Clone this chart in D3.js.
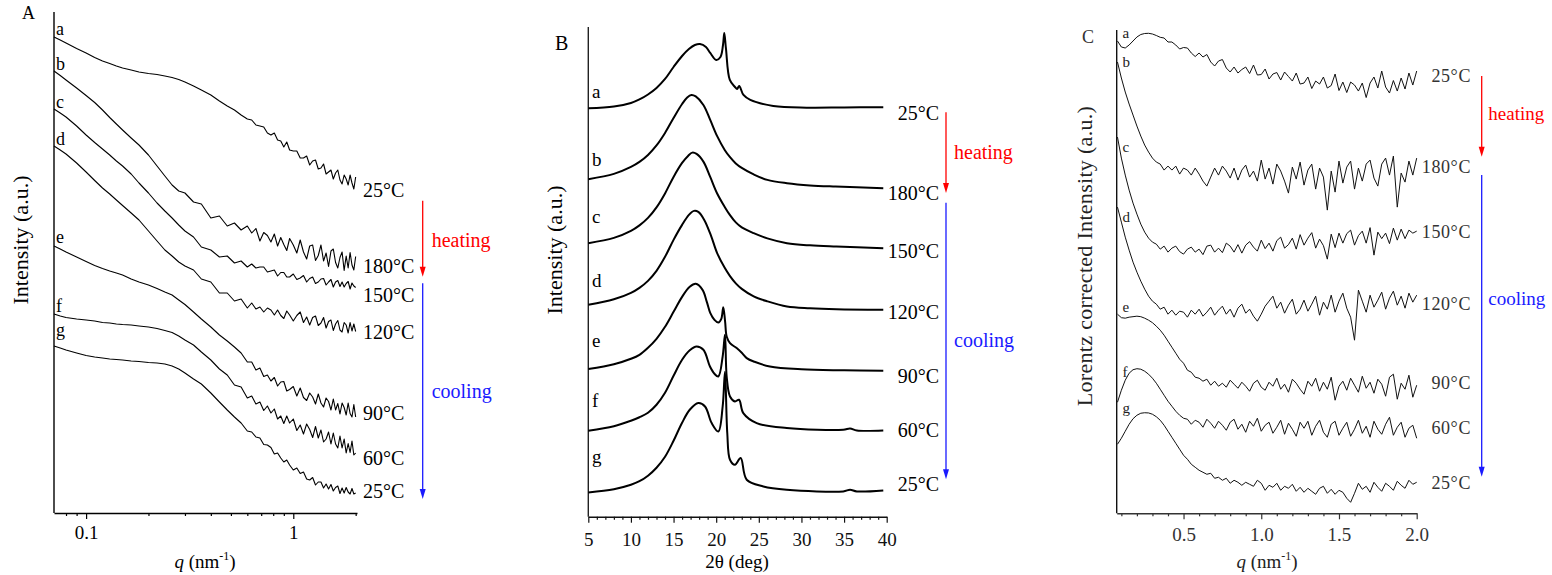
<!DOCTYPE html>
<html>
<head>
<meta charset="utf-8">
<script src="https://cdn.jsdelivr.net/npm/d3@7"></script>
<style>
  body { margin: 0; background: #fff; }
  svg text { font-family: "Liberation Serif", "Times New Roman", serif; }
</style>
</head>
<body>
<div id="chart"></div>
<script>
// ---------- panel A : SAXS, log q ----------
const qA = [0.07,0.075,0.08,0.09,0.1,0.11,0.12,0.13,0.14,0.15,0.165,0.18,0.2,0.22,0.24,0.26,0.28,0.3,0.33,0.36,0.4,0.44,0.48,0.52,0.56,0.6,
  0.63,0.66,0.69,0.72,0.75,0.78,0.81,0.84,0.87,0.9,0.93,0.96,1.0,1.04,1.08,1.12,1.16,1.2,1.24,1.28,1.32,1.36,1.4,1.44,1.48,1.52,1.56,1.6,1.64,1.68,1.72,1.76,1.8,1.84,1.88,1.92,1.96,2.0];
const saxsA = [476,473,470,464.5,460,455.5,452,449.5,447,445,443,441,439.5,438.5,437,435.5,433.5,431,427,423,418,412,407,403,398,394,
  393,388,387,386,380,378,380,373,372,366,371,363,362,362,355,355,357,348,352,353,344,345,349,339,341,343,334,340,343,333,329,338,334,328,338,330,324,336];
const saxsB = [442,437.5,433,425,417.5,410.5,403,395.5,389,383,375,368,358,347,337,328,322,320,311,309,295,297,287,290,283,287,
  280,284.5,272,280.5,277.5,271,279,267,275.5,268.5,262.5,274.5,268,260,273,261,254,267,268,252.5,257.5,268,252,260,246.5,262,264,250.5,245,255.5,261,242.5,257,245,260.5,248,243,256.5];
const saxsC = [404,400,396,387,378,370.5,364,358,352,347,339,330,320,310,302,295,288,282,276,266,263,256,257,250,252,246,
  249,245,246,246,241,242,243,237,240.5,240.5,236,236,239,233.5,235,237.5,231,234.5,236,229.5,231,234,234.5,228,231,233.5,226,231,232.5,226.5,231,226,229.5,231.5,224,230,227,225.5];
const saxsD = [367,363,359,350,341,332.5,325,319,313,307.5,300,293,282,272,263,257,251,247,243,234,231,220,220,212,214,205,
  210,204,206,201,205,203,198,203,197.5,194.5,202,198,192,197.5,201,190.5,196,188,195.5,197,187.5,190,195.5,185,191.5,193,182.5,189,192.5,183,181,190.5,188,180,190.5,182,189,181.5];
const saxsE = [267,264,261,256,251.5,247.5,244.5,242,240,238,234,231,228,224.5,221,218,213,208.5,201,194,186,178,172,166,160,151,
  151,143,145,136.5,138,132,135.5,127,131,131.5,122,123.5,126.5,117,125,115.5,112.5,120,116,109,119,110,106,115,111.5,103,114,103,109.5,99,110,105.5,98,110,99.5,96,108.5,96];
const saxsF = [199,197,195.5,194,193,192,190.5,190,189,188.5,188,187,186,184.5,182.5,180.5,177,173,168,161,153,144,138,128,126,115,
  117,109,111,102.5,107,100,104,94,97,89.5,97,90,94,82.5,88,79,89,83.5,75.5,86.5,75,83,71,74,81,69,80,69,65,77,65,74,60,69.5,60.5,72,58,60];
const saxsG = [167,165,163,160,157.5,156,155,154,153.5,153,152,151.5,150.5,150,149,147,144,140,134,129,120,111,103,96,90,82,
  81,76,75,68.5,68,65.5,59,60,55,51,53,48,43,45,39.5,41,34,33,35.5,28,31,31,25,29,24,28.5,22,25.5,27,19.5,25,20,25.5,21,19,24.5,19,20];
const saxsSeries = [saxsA, saxsB, saxsC, saxsD, saxsE, saxsF, saxsG];
const majorTicksA = [0.1, 1];
const minorTicksA = [0.08, 0.09, 0.2, 0.3, 0.4, 0.5, 0.6, 0.7, 0.8, 0.9, 2];

// ---------- panel B : WAXD, 2theta ----------
const xrdA = [[5,408.7],[8,410.5],[10,414],[11,417.5],[12,422.5],[13,429],[14,438],[15,450],[16,461],[16.8,468],[17.5,472],[18.1,473],[18.8,470],
  [19.3,464],[20,457],[20.5,460],[20.8,472],[20.95,484],[21.15,468],[21.6,437],[22.2,430],[22.45,428],[22.7,431],[23.2,422],[24,417],[26.7,411],
  [30.6,409.3],[35,409.5],[39.6,409.7]];
const xrdB = [[5,337.7],[8,343],[10,350],[11,355],[12,362],[13,371.5],[14,384],[15,399],[16,413],[16.6,419.5],[17.1,422],[17.6,420.5],[18.5,412],
  [19.3,397],[20.1,381],[21,367],[21.6,360],[22.3,353.5],[23,349],[24.4,342.5],[26,337],[28.3,333.7],[31,331.5],[34,330.3],[39.6,328.7]];
const xrdC = [[5,273.7],[8,279],[10,286],[11,291.5],[12,299],[13,309.5],[14,323.5],[15,340],[16,354],[16.7,361],[17.2,364.3],[17.7,363],
  [18.5,355.3],[19.3,340],[20.1,323.7],[21,310],[21.6,302],[22.3,294.5],[23,289.5],[24.4,283.7],[26,278.5],[28.3,273.7],[31,271.5],[34.1,270.3],[39.6,268.7]];
const xrdD = [[5,212],[8,217.5],[10,224],[11,229],[12,236],[13,246],[14,260],[15,277],[16,292],[16.8,302],[17.4,306],[17.9,305],
  [18.6,297],[19.4,281],[20.1,264],[21,249],[21.6,241],[22.3,233.5],[23,228],[24.4,220.5],[26,215.5],[28.3,210.3],[31,208.5],[34.1,207.5],[39.6,207]];
const xrdE = [[5,147.7],[8,152.5],[10,158],[11,162],[12,169],[13,178],[14,190],[15,205],[16,220],[16.9,230],[17.6,233],[18.4,227],[18.9,215],
  [19.3,204],[19.8,197],[20.25,194.3],[20.6,198],[20.83,209.7],[21.05,195],[21.23,180.3],[21.62,173.7],[22.4,168.7],[23,164],[23.58,158.7],
  [24.5,155],[26.3,150.3],[30,147.5],[35,146.5],[39.6,146]];
const xrdF = [[5,86],[8,90.5],[10,96],[11,99.5],[12,104],[13,112],[14,124],[15,141],[16,157],[16.9,166.5],[17.7,170.3],[18.5,167],
  [19.27,150.3],[19.8,143],[20.25,140.3],[20.76,160.3],[21.03,182],[21.23,140.3],[21.62,120.3],[22.2,115.3],[22.68,117],[23.18,103.7],[24.75,93.7],
  [28.27,88.7],[34.9,87],[35.7,88.3],[36.5,86.3],[39.6,86.3]];
const xrdG = [[5,24.3],[8,27.5],[10,32],[11,35.5],[12,41],[13,49],[14,60],[15,76],[16,94],[16.9,107],[17.9,113.7],[18.69,110.3],[19.47,93.7],
  [20.25,85.3],[20.76,110.3],[21.03,145],[21.3,83.7],[21.62,57],[22.2,52],[22.87,58.7],[23.58,37],[25.53,30.3],[28.27,27],[34.9,25.3],
  [35.7,27],[36.5,25.3],[39.6,26.3]];
const xrdSeries = [xrdA, xrdB, xrdC, xrdD, xrdE, xrdF, xrdG];
const majorTicksB = [5, 10, 15, 20, 25, 30, 35, 40];
const minorTicksB = d3.range(6, 40).filter(v => v % 5 !== 0);

// ---------- panel C : Lorentz corrected, linear q ----------
const qC = [0.075,0.1,0.125,0.15,0.175,0.2,0.225,0.25,0.275,0.3,0.325,0.35,0.375,0.4,0.425,0.45,0.475,0.5,0.525,0.55,0.575,0.6,0.625,0.65,0.675,0.7,
  0.725,0.75,0.775,0.8,0.825,0.85,0.875,0.9,0.925,0.95,0.975,1.0,1.025,1.05,1.075,1.1,1.125,1.15,1.175,1.2,1.225,1.25,1.275,1.3,1.325,1.35,
  1.375,1.4,1.425,1.45,1.475,1.5,1.525,1.55,1.575,1.6,1.625,1.65,1.675,1.7,1.725,1.75,1.775,1.8,1.825,1.85,1.875,1.9,1.925,1.95,1.975,2.0];
const lcA = [472,466,465,468,472,476,478.5,479.5,479.7,479,477.5,475.7,
  475,471,471,468,464,465.5,465,460,456.5,460,456,458.5,451,447,452,453.5,445,441,446,440,443.5,446,439.5,448,438,438.5,444,434,439,440.5,
  433,441,436.5,432,440,429,430,436,424.5,432,429,436,425,427.5,439,422.5,431,420.5,431,428,422,430,415.5,430,436,425,442,426,420,432.5,
  422,435,424,440,428,442];
const lcB = [451,435,421,409,398,387,377,368,361,355,351,
  349,343,347,343,347,339,345,343,338,345,339,332,327,336,345,338,347,342,335,345,333,343,348,336,342,332,353,334,345,329,
  349,342,332,320,346,334,351,328,343,349,324,345,336,303,342,321,352,330,346,352,324,345,332,349,353,335,327,349,355,338,
  357,306,340,331,352,338,355];
const lcC = [376,355,338,323,310,299,289,281,275,271,
  269,264,267,261,265,267,261.5,259,264,266,261,264,258.5,267,268,261,265,260.5,270,267,261,268.5,260,268,271.5,266,262,273,264.5,270,
  262,272.5,276,265,268.5,275,264,278.5,268,275,280.5,265,274,267.5,254,279,265.5,280,270,279.5,283,268,277.5,282,270,285.5,258,281,274.5,280,
  269.5,285,273,284,274.5,283,280,282];
const lcD = [306,291,276,263,251,241,232,224,217,212,
  209,204,206,199,203,198,202,201,196,203,199,204,197,201,206,198,203,207,199,204,196,205,209,200,204,197,192,199,207,212,
  217,205,211,200,208,214,199,204,213,202,209,217,198,211,204,218,201,212,220,205,196,173,223,212,201,218,206,213,221,204,
  215,222,208,217,205,220,211,218];
const lcE = [199,195.5,195,196,196.5,197,196.5,195,193,190.5,187,183,178,172,166,160,154,
  150,143,141,136,135,132,134,128,132,127,130,126,133,129,125,131,127,122,130,133,126,123,131,127,135,124,129,121,134,130,
  124,119,132,127,135,122,131,124,136,113,127,132,123,135,128,121,137,125,131,120,134,129,117,136,139,114,130,124,138,116,128];
const lcF = [111,123,133,140,143.5,144.5,144,142,139,135,130,124,118,112,107,102,98,95,
  94,89,93,91,86,94,90,85,92,88,83,91,94,84,89,81,92,87,95,82,88,91,80,86,93,79,90,84,77,91,
  85,92,78,87,93,81,76,89,92,78,85,91,77,84,93,80,87,76,92,84,79,89,96,78,86,91,76,85,88,75];
const lcG = [69,75,82,89,94.5,98,100,100.5,100.3,99,96.5,93,88,82,76,70,64,58,
  54,49,46,43,41,39,40,35,36,33,35,30,33,31,28,31,29,27,33,30,23,28,26,30,23,27,25,29,22,26,
  21,25,22,19,25,27,20,24,19,23,21,15,11,20,30,24,27,21,31,26,22,30,27,23,32,28,25,33,29,31];
const lcSeries = [lcA, lcB, lcC, lcD, lcE, lcF, lcG];
const majorTicksC = [0.5, 1.0, 1.5, 2.0];
const minorTicksC = [0.1,0.2,0.3,0.4,0.6,0.7,0.8,0.9,1.1,1.2,1.3,1.4,1.6,1.7,1.8,1.9];

// ---------- labels ----------
const curveLetters = ['a', 'b', 'c', 'd', 'e', 'f', 'g'];
const tempLabels = ['25°C', '180°C', '150°C', '120°C', '90°C', '60°C', '25°C'];

// ---------- layout ----------
const width = 1552, height = 575;
const svg = d3.select('#chart').append('svg')
  .attr('width', width)
  .attr('height', height);

const xA = d3.scaleLog().domain([0.07, 2.03]).range([54, 357]);
const yA = d3.scaleLinear().domain([0, 501]).range([513, 12]);
const xB = d3.scaleLinear().domain([5, 40]).range([588.3, 886.7]);
const yB = d3.scaleLinear().domain([0, 490]).range([516.7, 27]);
const xC = d3.scaleLinear().domain([0.07, 2.0]).range([1116.7, 1416.7]);
const yC = d3.scaleLinear().domain([0, 483]).range([513.3, 30]);

function drawXAxis(x, yPos, major, minor, fmt, labelY, color) {
  const gMinor = svg.append('g')
    .attr('transform', `translate(0, ${yPos})`)
    .call(d3.axisBottom(x).tickValues(minor).tickSize(3).tickSizeOuter(0).tickFormat(''));
  gMinor.select('.domain').remove();
  gMinor.selectAll('line').attr('stroke', color).attr('stroke-width', 1.2);

  const g = svg.append('g')
    .attr('transform', `translate(0, ${yPos})`)
    .call(d3.axisBottom(x).tickValues(major).tickSize(6).tickSizeOuter(0).tickFormat(fmt));
  g.select('.domain').attr('stroke', color).attr('stroke-width', 1.4);
  g.selectAll('line').attr('stroke', color).attr('stroke-width', 1.2);
  g.selectAll('text')
    .attr('y', labelY)
    .attr('fill', color)
    .style('font-family', '"Liberation Serif", serif')
    .style('font-size', '19px');
}

function drawYLine(x, y0, y1, color) {
  svg.append('line')
    .attr('x1', x).attr('x2', x)
    .attr('y1', y0).attr('y2', y1)
    .attr('stroke', color)
    .attr('stroke-width', 1.4);
}

function arrow(x, y0, y1, color) {
  svg.append('line')
    .attr('x1', x).attr('x2', x)
    .attr('y1', y0).attr('y2', y1 - 6)
    .attr('stroke', color)
    .attr('stroke-width', 1.3);
  svg.append('path')
    .attr('d', `M${x - 3},${y1 - 10} L${x + 3},${y1 - 10} L${x},${y1} Z`)
    .attr('fill', color);
}

function text(x, y, str, opts = {}) {
  return svg.append('text')
    .attr('x', x)
    .attr('y', y)
    .attr('text-anchor', opts.anchor || 'start')
    .attr('fill', opts.color || '#000')
    .style('font-size', (opts.size || 19) + 'px')
    .text(str);
}

function yTitle(x, y, str, color, size, spacing = 0) {
  svg.append('text')
    .attr('transform', `translate(${x}, ${y}) rotate(-90)`)
    .attr('text-anchor', 'middle')
    .attr('fill', color)
    .style('font-size', size + 'px')
    .style('letter-spacing', spacing + 'px')
    .text(str);
}

function qTitle(x, y, color) {
  const t = svg.append('text')
    .attr('x', x).attr('y', y)
    .attr('text-anchor', 'middle')
    .attr('fill', color)
    .style('font-size', '19px');
  t.append('tspan').style('font-style', 'italic').text('q');
  t.append('tspan').text(' (nm');
  t.append('tspan').attr('dy', -8).style('font-size', '12px').text('-1');
  t.append('tspan').attr('dy', 8).text(')');
}

// ---------- panel A ----------
drawYLine(54, 12, 513, '#000');
drawXAxis(xA, 513, majorTicksA, minorTicksA, d => d === 1 ? '1' : '0.1', 13, '#000');

const lineA = d3.line()
  .x(d => xA(d[0]))
  .y(d => yA(d[1]));

saxsSeries.forEach(s => {
  svg.append('path')
    .attr('d', lineA(qA.map((q, i) => [q, s[i]])))
    .attr('fill', 'none')
    .attr('stroke', '#000')
    .attr('stroke-width', 1.1)
    .attr('stroke-linejoin', 'round');
});

const letterYA = [35, 70, 108, 145, 243, 312, 336];
curveLetters.forEach((l, i) => text(56, letterYA[i], l, { size: 18 }));
const tempYA = [197, 273, 302, 339, 420, 465, 498];
tempLabels.forEach((t, i) => text(363, tempYA[i], t, { size: 20 }));
arrow(422.7, 200.7, 276.7, '#ff0000');
arrow(422.7, 283.3, 499, '#1a1aff');
text(431.7, 246.5, 'heating', { color: '#ff0000', size: 20 });
text(431.7, 397.5, 'cooling', { color: '#1a1aff', size: 20 });
yTitle(28, 240, 'Intensity (a.u.)', '#000', 22);
qTitle(205, 568, '#000');
text(22, 19, 'A', { size: 18 });

// ---------- panel B ----------
drawYLine(588.3, 27, 516.7, '#222');
drawXAxis(xB, 516.7, majorTicksB, minorTicksB, d3.format('d'), 16, '#111');

const lineB = d3.line()
  .x(d => xB(d[0]))
  .y(d => yB(d[1]))
  .curve(d3.curveCatmullRom.alpha(0.5));

xrdSeries.forEach(s => {
  svg.append('path')
    .attr('d', lineB(s))
    .attr('fill', 'none')
    .attr('stroke', '#000')
    .attr('stroke-width', 2)
    .attr('stroke-linejoin', 'round');
});

const letterYB = [98, 166, 223, 287, 347, 407, 463];
curveLetters.forEach((l, i) => text(592, letterYB[i], l, { size: 19 }));
const tempYB = [120, 200, 258, 319, 383, 437, 491];
tempLabels.forEach((t, i) => text(939, tempYB[i], t, { size: 20, anchor: 'end' }));
arrow(946, 112.3, 193, '#ff0000');
arrow(946, 202.7, 479.3, '#1a1aff');
text(954, 158.5, 'heating', { color: '#ff0000', size: 20 });
text(954, 347, 'cooling', { color: '#1a1aff', size: 20 });
yTitle(562, 250, 'Intensity (a.u.)', '#000', 22);
text(737, 568, '2θ (deg)', { anchor: 'middle', size: 19 });
text(555, 50, 'B', { size: 20 });

// ---------- panel C ----------
drawYLine(1116.7, 30, 513.3, '#111');
drawXAxis(xC, 513.3, majorTicksC, minorTicksC, d3.format('.1f'), 14, '#333');

const lineC = d3.line()
  .x(d => xC(d[0]))
  .y(d => yC(d[1]));

lcSeries.forEach(s => {
  svg.append('path')
    .attr('d', lineC(qC.map((q, i) => [q, s[i]])))
    .attr('fill', 'none')
    .attr('stroke', '#111')
    .attr('stroke-width', 1)
    .attr('stroke-linejoin', 'round');
});

const letterYC = [38, 67, 152, 222, 312, 377, 413];
curveLetters.forEach((l, i) => text(1122.5, letterYC[i], l, { size: 15, color: '#222' }));
const tempYC = [82, 173, 238, 310, 389, 434, 489];
tempLabels.forEach((t, i) => text(1471, tempYC[i], t, { size: 18, anchor: 'end', color: '#333' })
  .style('letter-spacing', '0.6px'));
arrow(1481.7, 76, 156.7, '#ff0000');
arrow(1481.7, 175, 476.7, '#1a1aff');
text(1488.3, 119.5, 'heating', { color: '#ff0000', size: 19 });
text(1488.3, 304.5, 'cooling', { color: '#1a1aff', size: 19 });
yTitle(1092, 256, 'Lorentz corrected Intensity (a.u.)', '#222', 22, 0.3);
qTitle(1267, 568, '#222');
text(1082, 43, 'C', { size: 18, color: '#333' });
</script>
</body>
</html>
